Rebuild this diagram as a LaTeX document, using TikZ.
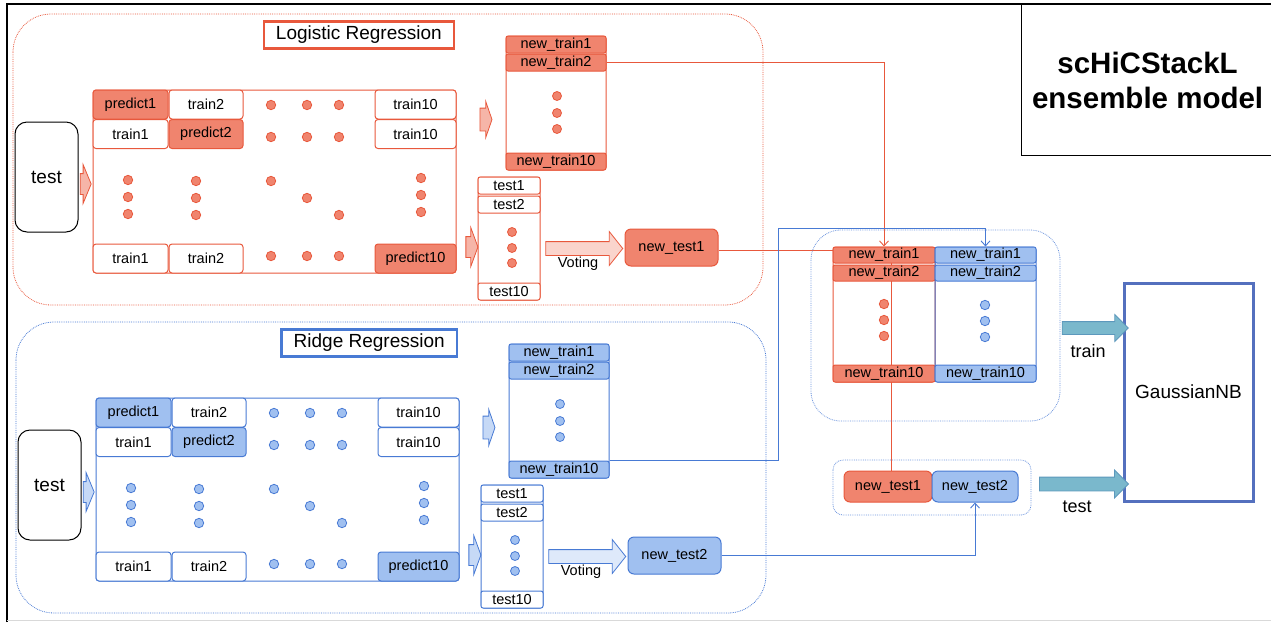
\documentclass[tikz,border=0pt]{standalone}
\usepackage{fontspec}
\setmainfont{Liberation Sans}
\usetikzlibrary{arrows.meta,shapes.arrows,backgrounds}

\definecolor{lrline}{RGB}{232,88,60}
\definecolor{lrfill}{RGB}{240,132,110}
\definecolor{rrline}{RGB}{72,122,212}
\definecolor{rrfill}{RGB}{160,192,240}
\definecolor{tealfill}{RGB}{122,184,204}
\definecolor{tealline}{RGB}{92,152,188}
\definecolor{nbblue}{RGB}{84,112,190}
\colorlet{ln}{black}
\colorlet{fl}{white}

\newcommand{\cellfont}{\fontsize{14.5}{16}\selectfont}
\newcommand{\bigfont}{\fontsize{19}{22}\selectfont}

\tikzset{
  foldcell/.style={draw=ln,fill=white,rounded corners=3pt,inner sep=0pt,
    minimum height=29,line width=1pt,font=\cellfont},
  predcell/.style={foldcell,fill=fl},
  rowcell/.style={foldcell,minimum height=17,rounded corners=2pt},
  rowpred/.style={rowcell,fill=fl},
  foldbox/.style={draw=ln,line width=1pt,rounded corners=3pt,inner sep=0pt},
  blob/.style={draw=ln,fill=fl,line width=0.8pt},
  modelpanel/.style={draw=ln,densely dotted,line width=0.8pt,rounded corners=38pt},
  pushar/.style={single arrow,draw=ln,fill=fl!60!white,line width=0.8pt,
    inner xsep=0pt,single arrow tip angle=135},
  link/.style={draw=#1,line width=0.9pt},
  barb/.style={-{Straight Barb[length=5pt,width=9pt]}},
  feedar/.style={single arrow,draw=tealline,fill=tealfill,line width=0.8pt,
    inner xsep=0pt,inner ysep=6pt,single arrow head extend=7pt,
    single arrow tip angle=90},
}

% one base learner: folds, new train set, voted test set
\newcommand{\regpanel}[5]{%
  \colorlet{ln}{#2}\colorlet{fl}{#3}%
  \draw[modelpanel] (13,14) rectangle (763,305);
  \node[draw=ln,line width=2.5pt,anchor=east,inner xsep=12pt,minimum height=27,
    font=\bigfont] (#1-title) at (455,35) {#4};
  \node[draw=black,line width=1pt,rounded corners=12pt,minimum width=63,
    minimum height=110,font=\bigfont] (#1-test) at (46.5,177) {test};
  \node[pushar,inner ysep=10pt,single arrow head extend=9pt,minimum height=11]
    (#1-a1) at (83.5,184) {};
  % ten folds
  \node[foldbox,minimum width=363,minimum height=183] (#1-grid) at (274.5,181.5) {};
  \node[predcell,minimum width=75] (#1-c11) at (130.5,104.5) {predict1};
  \node[foldcell,minimum width=74] (#1-c12) at (206,104.5) {train2};
  \node[foldcell,minimum width=81] (#1-c1x) at (415.5,104.5) {train10};
  \node[foldcell,minimum width=75] (#1-c21) at (130.5,134) {train1};
  \node[predcell,minimum width=74] (#1-c22) at (206,134) {predict2};
  \node[foldcell,minimum width=81] (#1-c2x) at (415.5,134) {train10};
  \node[foldcell,minimum width=75] (#1-cx1) at (130.5,258.5) {train1};
  \node[foldcell,minimum width=74] (#1-cx2) at (206,258.5) {train2};
  \node[predcell,minimum width=81] (#1-cxx) at (415.5,258.5) {predict10};
  \foreach \x in {271,307,339}
    \foreach \y in {105,137,256}
      \draw[blob] (\x,\y) circle (4.7);
  \foreach \x/\y in {128/180,128/197,128/214,196/181,196/198,196/215,
                     271/181,307/198,339/215,421/178,421/195,421/212}
    \draw[blob] (\x,\y) circle (4.7);
  % out-of-fold predictions
  \node[pushar,inner ysep=11pt,single arrow head extend=6.5pt,
    single arrow tip angle=142,minimum height=12] (#1-a2) at (484,119.5) {};
  \node[foldbox,minimum width=100,minimum height=134] (#1-new) at (556,103) {};
  \node[rowpred,minimum width=100] (#1-ntr1) at (556,44.5) {new\_train1};
  \node[rowpred,minimum width=100] (#1-ntr2) at (556,62.5) {new\_train2};
  \node[rowpred,minimum width=100] (#1-ntr10) at (556,161.5) {new\_train10};
  \foreach \y in {96,113,129}
    \draw[blob] (557,\y) circle (4.5);
  % test predictions
  \node[pushar,inner ysep=10pt,single arrow head extend=9pt,
    single arrow tip angle=140,minimum height=12] (#1-a3) at (470,247) {};
  \node[foldbox,minimum width=62,minimum height=123] (#1-tcol) at (509,238.5) {};
  \node[rowcell,minimum width=62] (#1-t1) at (509,185.5) {test1};
  \node[rowcell,minimum width=62] (#1-t2) at (509,204.5) {test2};
  \node[rowcell,minimum width=62] (#1-t10) at (509,291.5) {test10};
  \foreach \y in {232,248,263}
    \draw[blob] (512,\y) circle (4.5);
  \node[pushar,fill=fl!35!white,inner ysep=6.5pt,single arrow head extend=10pt,
    single arrow tip angle=103,minimum height=77] (#1-vote) at (581.5,248.5) {};
  \node[font=\cellfont] (#1-votel) at (578,264) {Voting};
  \node[predcell,rounded corners=6pt,minimum width=93,minimum height=37]
    (#1-nte) at (671.5,247.5) {new\_test#5};
}

\begin{document}
\begin{tikzpicture}[x=1pt,y=-1pt]
\useasboundingbox (0,0) rectangle (1271,622);
\draw[line width=1.5pt] (7,622) -- (7,4) -- (1271,4);
\draw[black!15,line width=1pt] (7,620.5) -- (1271,620.5);
\node[draw,line width=1.2pt,minimum width=252,minimum height=151,anchor=north west,
  align=center,font=\bfseries\fontsize{29.5}{35}\selectfont] (name) at (1021,4)
  {scHiCStackL\\ensemble model};

\regpanel{lr}{lrline}{lrfill}{Logistic Regression}{1}
\begin{scope}[shift={(3,308)}]
\regpanel{rr}{rrline}{rrfill}{Ridge Regression}{2}
\end{scope}

% stacked features
\draw[modelpanel,draw=rrline!80!white,rounded corners=30pt] (811,230) rectangle (1060,421);
\draw[modelpanel,draw=rrline!80!white,rounded corners=10pt] (833,460) rectangle (1031,515);
\colorlet{ln}{lrline}\colorlet{fl}{lrfill}
\node[foldbox,minimum width=102,minimum height=135] (ered) at (884,314.5) {};
\node[rowpred,minimum width=102,minimum height=16] (er1) at (884,255) {new\_train1};
\node[rowpred,minimum width=102,minimum height=16] (er2) at (884,273) {new\_train2};
\node[rowpred,minimum width=102] (er10) at (884,373.5) {new\_train10};
\foreach \y in {304,320,336}
  \draw[blob] (884,\y) circle (4.7);
\node[predcell,rounded corners=6pt,minimum width=88,minimum height=31] (et1) at (888,486.5) {new\_test1};
\colorlet{ln}{rrline}\colorlet{fl}{rrfill}
\node[foldbox,minimum width=101,minimum height=135] (eblue) at (985.5,314.5) {};
\node[rowpred,minimum width=101,minimum height=16] (eb1) at (985.5,255) {new\_train1};
\node[rowpred,minimum width=101,minimum height=16] (eb2) at (985.5,273) {new\_train2};
\node[rowpred,minimum width=101] (eb10) at (985.5,373.5) {new\_train10};
\foreach \y in {305,321,337}
  \draw[blob] (985,\y) circle (4.7);
\node[predcell,rounded corners=6pt,minimum width=86,minimum height=31] (et2) at (975,486.5) {new\_test2};

% meta learner
\node[draw=nbblue,line width=3pt,minimum width=129,minimum height=218,font=\bigfont]
  (gnb) at (1188.5,392) {GaussianNB};
\node[feedar,minimum height=66] (atrain) at (1092,328) {};
\node[feedar,inner ysep=6.5pt,minimum height=89] (atest) at (1080.5,484) {};
\node[font=\fontsize{18}{20}\selectfont] (ltrain) at (1088,351) {train};
\node[font=\fontsize{18}{20}\selectfont] (ltest) at (1077,507) {test};

% connectors
\coordinate (bend) at (778,228);
\draw[link=lrline,barb] (lr-ntr2.east) -| (er1.north);
\draw[link=rrline,barb] (rr-ntr10.north east) -| (bend) -| (eb1.north);
\draw[link=rrline,barb] (rr-nte.east) -| (et2.south);
\begin{pgfonlayer}{background}
\draw[link=lrline] ([yshift=-2.5pt]lr-nte.east) -| ([xshift=3pt]et1.north);
\end{pgfonlayer}
\end{tikzpicture}
\end{document}
